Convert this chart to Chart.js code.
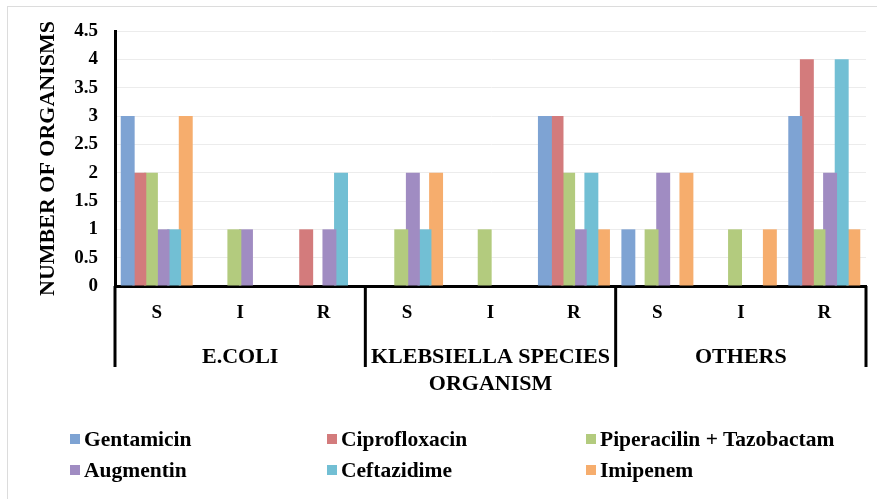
<!DOCTYPE html>
<html lang="en">
<head>
  <meta charset="UTF-8">
  <title>Antibiotic sensitivity by organism</title>
  <script src="https://cdn.jsdelivr.net/npm/chart.js"></script>
  <style>
    body { margin: 0; background: #fff; }
    #wrap { position: relative; width: 877px; height: 499px; }
    #frame { position: absolute; left: 7px; top: 6px; right: 0; bottom: 0;
             border-top: 1px solid #dcdcdc; border-left: 1px solid #dcdcdc; }
    #legend { position: absolute; left: 0; top: 0; width: 877px; height: 499px; pointer-events: none; }
    .item { position: absolute; display: flex; align-items: center;
            font: bold 21.5px "Liberation Serif", "Times New Roman", serif; color: #000; }
    .item span.box { width: 10px; height: 10px; margin-right: 4px; display: inline-block; }
  </style>
</head>
<body>
  <div id="wrap">
    <div id="frame"></div>
    <canvas id="chart" width="877" height="499"></canvas>
    <div id="legend"></div>
  </div>

  <script>
    // categories (S / I / R inside each organism group)
    const categories = ['S', 'I', 'R', 'S', 'I', 'R', 'S', 'I', 'R'];
    const organisms = ['E.COLI', 'KLEBSIELLA SPECIES', 'OTHERS'];

    // number of organisms per antibiotic
    const gentamicin    = [3, 0, 0, 0, 0, 3, 1, 0, 3];
    const ciprofloxacin = [2, 0, 1, 0, 0, 3, 0, 0, 4];
    const piperacilin   = [2, 1, 0, 1, 1, 2, 1, 1, 1];
    const augmentin     = [1, 1, 1, 2, 0, 1, 2, 0, 2];
    const ceftazidime   = [1, 0, 2, 1, 0, 2, 0, 0, 4];
    const imipenem      = [3, 0, 0, 2, 0, 1, 2, 1, 1];

    const yTicks = [0, 0.5, 1, 1.5, 2, 2.5, 3, 3.5, 4, 4.5];

    const series = [
      { label: 'Gentamicin', data: gentamicin, color: '#7ea3d3' },
      { label: 'Ciprofloxacin', data: ciprofloxacin, color: '#d37b7c' },
      { label: 'Piperacilin + Tazobactam', data: piperacilin, color: '#b3cb7e' },
      { label: 'Augmentin', data: augmentin, color: '#a08cc2' },
      { label: 'Ceftazidime', data: ceftazidime, color: '#72bfd4' },
      { label: 'Imipenem', data: imipenem, color: '#f6ad6d' }
    ];

    const serif = '"Liberation Serif", "Times New Roman", serif';

    // vertical lines separating the organism groups under the axis
    const groupLines = {
      id: 'groupLines',
      afterDraw(chart) {
        const x = chart.scales.x;
        const x2 = chart.scales.x2;
        const ctx = chart.ctx;
        const per = categories.length / organisms.length;
        const xs = [x.left];
        for (let g = 1; g < organisms.length; g++) xs.push(x.getPixelForValue(g * per - 0.5));
        xs.push(x.right);
        ctx.save();
        ctx.strokeStyle = '#000';
        ctx.lineWidth = 3;
        xs.forEach(px => {
          ctx.beginPath();
          ctx.moveTo(px, chart.chartArea.bottom);
          ctx.lineTo(px, x2.top + 31);
          ctx.stroke();
        });
        ctx.restore();
      }
    };

    const chart = new Chart(document.getElementById('chart'), {
      type: 'bar',
      data: {
        labels: categories,
        datasets: series.map(s => ({
          label: s.label,
          data: s.data,
          backgroundColor: s.color,
          borderWidth: 0,
          categoryPercentage: 0.835,
          barPercentage: 1.2
        }))
      },
      options: {
        responsive: false,
        animation: false,
        layout: { padding: { left: 0, right: 11, top: 31, bottom: 101 } },
        plugins: { legend: { display: false }, tooltip: { enabled: false } },
        scales: {
          y: {
            min: 0,
            max: 4.5,
            afterBuildTicks(scale) { scale.ticks = yTicks.map(v => ({ value: v })); },
            afterFit(scale) { scale.width = 115; },
            ticks: { padding: 17, color: '#000', callback: v => String(v),
                     font: { family: serif, size: 19, weight: 'bold' } },
            grid: { color: '#ececec', lineWidth: 1, drawTicks: false },
            border: { display: true, color: '#000', width: 3 },
            title: {
              display: true,
              text: 'NUMBER OF ORGANISMS',
              color: '#000',
              font: { family: serif, size: 22, weight: 'bold' },
              padding: { top: 35, bottom: 0 }
            }
          },
          x: {
            afterFit(scale) { scale.height = 50; },
            ticks: { autoSkip: false, maxRotation: 0, padding: 16, color: '#000',
                     font: { family: serif, size: 19, weight: 'bold' } },
            grid: { display: false, drawTicks: false },
            border: { display: true, color: '#000', width: 3 }
          },
          x2: {
            type: 'category',
            position: 'bottom',
            labels: organisms,
            offset: true,
            afterFit(scale) { scale.height = 62; },
            ticks: { autoSkip: false, maxRotation: 0, padding: 8, color: '#000',
                     font: { family: serif, size: 22, weight: 'bold' } },
            grid: { display: false, drawTicks: false },
            border: { display: false },
            title: {
              display: true,
              text: 'ORGANISM',
              color: '#000',
              font: { family: serif, size: 22, weight: 'bold' },
              padding: { top: 0, bottom: 0 }
            }
          }
        }
      },
      plugins: [groupLines]
    });

    // legend: 3 columns x 2 rows
    const legend = document.getElementById('legend');
    const colX = [70, 327, 586];
    const rowY = [439, 470];
    chart.data.datasets.forEach((ds, i) => {
      const item = document.createElement('div');
      item.className = 'item';
      item.style.left = colX[i % 3] + 'px';
      item.style.top = (rowY[Math.floor(i / 3)] - 12) + 'px';
      item.style.height = '24px';
      item.innerHTML = `<span class="box" style="background:${ds.backgroundColor}"></span>${ds.label}`;
      legend.appendChild(item);
    });
  </script>
</body>
</html>
